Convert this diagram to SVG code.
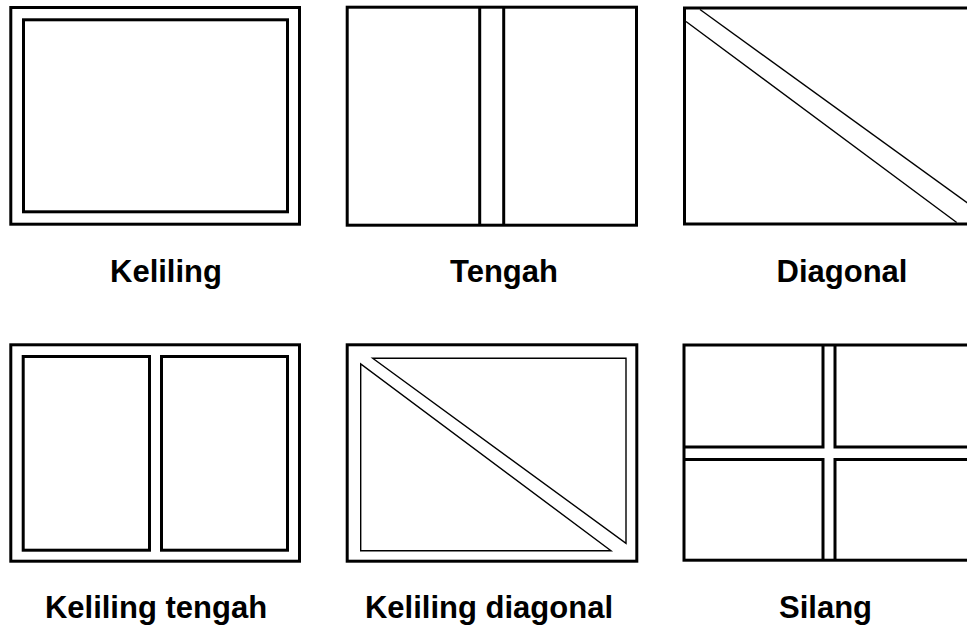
<svg xmlns="http://www.w3.org/2000/svg" width="967" height="628" viewBox="0 0 967 628">
<style>
.thick{fill:none;stroke:#000;stroke-width:3;stroke-linejoin:miter}
.thin{fill:none;stroke:#000;stroke-width:1.4;stroke-linejoin:miter}
.lbl{font-family:"Liberation Sans",Arial,sans-serif;font-weight:bold;font-size:31px;fill:#000;text-anchor:middle}
</style>
<rect x="0" y="0" width="967" height="628" fill="#fff"/>
<g id="keliling">
<rect class="thick" x="10.8" y="7.5" width="288.7" height="216.7"/>
<rect class="thick" x="23.5" y="19.8" width="264" height="192"/>
<text class="lbl" x="166" y="282">Keliling</text>
</g>
<g id="tengah">
<rect class="thick" x="347.2" y="7.2" width="289.3" height="218"/>
<line class="thick" x1="479.7" y1="7.2" x2="479.7" y2="225.2"/>
<line class="thick" x1="503.7" y1="7.2" x2="503.7" y2="225.2"/>
<text class="lbl" x="504" y="282">Tengah</text>
</g>
<g id="diagonal">
<rect class="thick" x="684.5" y="8" width="300" height="216"/>
<line class="thin" x1="700" y1="9.5" x2="975" y2="208.5"/>
<line class="thin" x1="686" y1="21.5" x2="956.7" y2="222.5"/>
<text class="lbl" x="842" y="282">Diagonal</text>
</g>
<g id="keliling-tengah">
<rect class="thick" x="10.8" y="344.8" width="288.7" height="216.4"/>
<rect class="thick" x="23.2" y="356.5" width="126.3" height="193.7"/>
<rect class="thick" x="161.5" y="356.5" width="126" height="193.7"/>
<text class="lbl" x="156" y="618">Keliling tengah</text>
</g>
<g id="keliling-diagonal">
<rect class="thick" x="347.2" y="344.8" width="289.6" height="216.4"/>
<polygon class="thin" points="372.7,358.3 626,358.3 626,543.3"/>
<polygon class="thin" points="360.7,364 360.7,550.7 611,550.7"/>
<text class="lbl" x="489" y="618">Keliling diagonal</text>
</g>
<g id="silang">
<rect class="thick" x="684" y="345" width="300" height="215.2"/>
<path class="thick" d="M684,447 H823 V345"/>
<path class="thick" d="M975,447 H835 V345"/>
<path class="thick" d="M684,459.5 H823 V560.2"/>
<path class="thick" d="M975,459.5 H835 V560.2"/>
<text class="lbl" x="825.5" y="618">Silang</text>
</g>
<g id="connectors"></g>
</svg>
